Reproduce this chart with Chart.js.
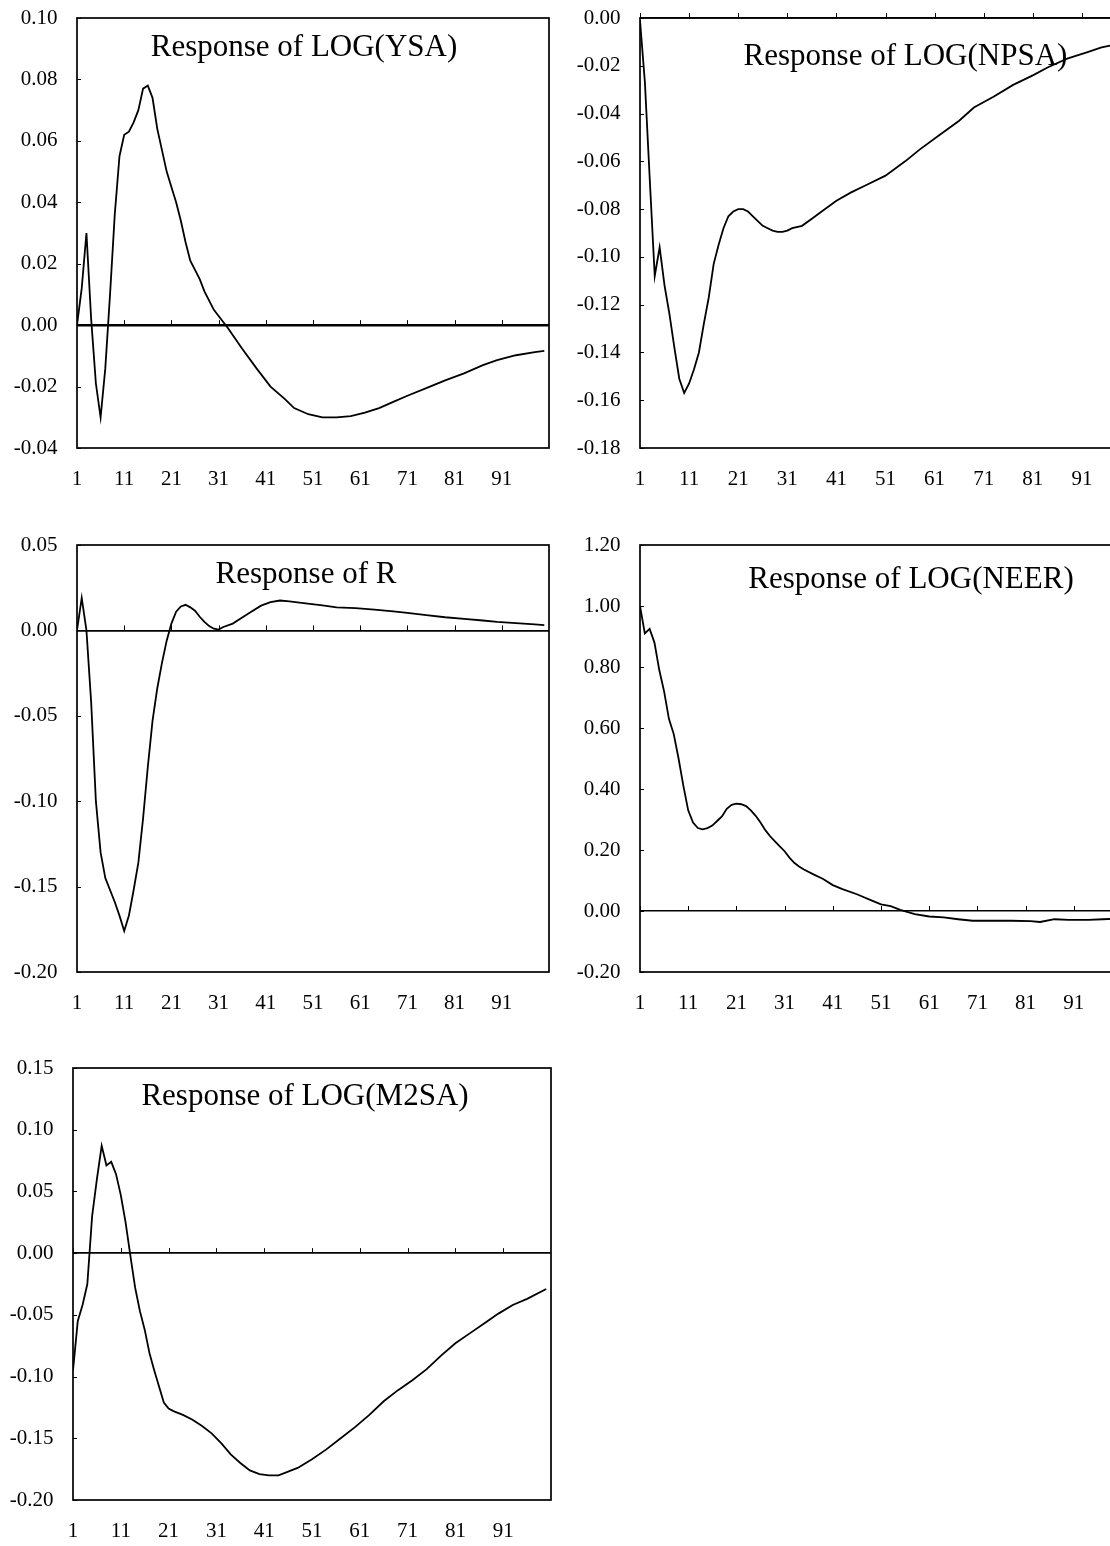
<!DOCTYPE html>
<html>
<head>
<meta charset="utf-8">
<script src="https://cdn.jsdelivr.net/npm/chart.js@4.4.0/dist/chart.umd.min.js"></script>
<style>
html, body { margin: 0; padding: 0; background: #fff; width: 1110px; height: 1546px; overflow: hidden; }
canvas.panel { position: absolute; }
</style>
</head>
<body>
<canvas id="c1" class="panel"></canvas>
<canvas id="c2" class="panel"></canvas>
<canvas id="c3" class="panel"></canvas>
<canvas id="c4" class="panel"></canvas>
<canvas id="c5" class="panel"></canvas>
<script>
// ==================== data ====================
const xTicks = [1, 11, 21, 31, 41, 51, 61, 71, 81, 91];

// Response of LOG(YSA)
const ysaTicks = [0.10, 0.08, 0.06, 0.04, 0.02, 0.00, -0.02, -0.04];
const ysaPeriods = [1, 2, 3, 4, 5, 6, 7, 8, 9, 10, 11, 12, 13, 14, 15, 16, 17, 18, 19, 20,
    21, 22, 23, 24, 25, 26, 27, 28, 29, 30, 31, 33, 36, 39, 42, 45, 47, 50, 53, 56,
    59, 62, 65, 68, 71, 75, 79, 83, 87, 90, 94, 98, 100];
const ysaValues = [0, 0.012, 0.030, 0.002, -0.019, -0.030, -0.014, 0.010, 0.036, 0.055, 0.062, 0.063, 0.066, 0.070, 0.077, 0.078, 0.074, 0.064, 0.057, 0.050,
    0.045, 0.040, 0.034, 0.027, 0.021, 0.018, 0.015, 0.011, 0.008, 0.005, 0.003, -0.001, -0.0077, -0.014, -0.020, -0.024, -0.027, -0.029, -0.030, -0.030,
    -0.0296, -0.0285, -0.027, -0.025, -0.023, -0.0205, -0.018, -0.0157, -0.013, -0.0114, -0.0098, -0.0088, -0.0084];

// Response of LOG(NPSA)
const npsaTicks = [0.00, -0.02, -0.04, -0.06, -0.08, -0.10, -0.12, -0.14, -0.16, -0.18];
const npsaPeriods = [1, 2, 3, 4, 5, 6, 7, 8, 9, 10, 11, 12, 13, 14, 15, 16, 17, 18, 19, 20,
    21, 22, 23, 24, 25, 26, 27, 28, 29, 30, 31, 32, 34, 36, 38, 41, 44, 47, 51, 55,
    58, 62, 66, 69, 73, 77, 81, 84, 88, 92, 95, 98, 100];
const npsaValues = [-0.001, -0.027, -0.068, -0.108, -0.096, -0.112, -0.124, -0.138, -0.151, -0.157, -0.153, -0.147, -0.140, -0.128, -0.117, -0.103, -0.095, -0.088, -0.083, -0.081,
    -0.080, -0.080, -0.081, -0.083, -0.085, -0.087, -0.088, -0.089, -0.0895, -0.0895, -0.089, -0.088, -0.087, -0.084, -0.081, -0.0765, -0.073, -0.070, -0.066, -0.060,
    -0.055, -0.049, -0.043, -0.0375, -0.033, -0.028, -0.024, -0.0207, -0.017, -0.0144, -0.0123, -0.011, -0.0102];

// Response of R
const rTicks = [0.05, 0.00, -0.05, -0.10, -0.15, -0.20];
const rPeriods = [1, 2, 3, 4, 5, 6, 7, 8, 9, 10, 11, 12, 13, 14, 15, 16, 17, 18, 19, 20,
    21, 22, 23, 24, 25, 26, 27, 28, 29, 30, 31, 32, 34, 36, 38, 40, 42, 44, 46, 49,
    53, 56, 60, 64, 68, 71, 75, 79, 83, 87, 90, 94, 98, 100];
const rValues = [0, 0.019, 0.0, -0.042, -0.100, -0.130, -0.145, -0.152, -0.159, -0.167, -0.176, -0.167, -0.152, -0.136, -0.110, -0.080, -0.053, -0.034, -0.019, -0.006,
    0.004, 0.011, 0.014, 0.015, 0.0135, 0.0115, 0.008, 0.005, 0.0025, 0.001, 0.0005, 0.002, 0.004, 0.0075, 0.011, 0.0145, 0.0165, 0.0175, 0.017, 0.016,
    0.0147, 0.0135, 0.0131, 0.0122, 0.0112, 0.0102, 0.0089, 0.0077, 0.0068, 0.0058, 0.005, 0.0042, 0.0035, 0.0031];

// Response of LOG(NEER)
const neerTicks = [1.20, 1.00, 0.80, 0.60, 0.40, 0.20, 0.00, -0.20];
const neerPeriods = [1, 2, 3, 4, 5, 6, 7, 8, 9, 10, 11, 12, 13, 14, 15, 16, 17, 18, 19, 20,
    21, 22, 23, 24, 25, 26, 27, 28, 29, 30, 31, 32, 33, 34, 35, 37, 39, 41, 43, 46,
    49, 51, 53, 55, 58, 61, 64, 67, 70, 74, 78, 82, 84, 87, 90, 94, 97, 100];
const neerValues = [1.00, 0.91, 0.925, 0.88, 0.79, 0.72, 0.63, 0.58, 0.50, 0.41, 0.33, 0.29, 0.272, 0.268, 0.272, 0.28, 0.295, 0.31, 0.335, 0.348,
    0.352, 0.350, 0.344, 0.330, 0.312, 0.29, 0.265, 0.245, 0.228, 0.212, 0.196, 0.175, 0.158, 0.146, 0.136, 0.120, 0.105, 0.085, 0.072, 0.055,
    0.035, 0.022, 0.016, 0.004, -0.010, -0.018, -0.021, -0.027, -0.032, -0.032, -0.032, -0.033, -0.036, -0.027, -0.029, -0.029, -0.027, -0.025];

// Response of LOG(M2SA)
const m2Ticks = [0.15, 0.10, 0.05, 0.00, -0.05, -0.10, -0.15, -0.20];
const m2Periods = [1, 2, 3, 4, 5, 6, 7, 8, 9, 10, 11, 12, 13, 14, 15, 16, 17, 18, 19, 20,
    21, 22, 24, 26, 28, 30, 32, 34, 36, 38, 40, 42, 44, 46, 48, 51, 54, 57, 60, 63,
    66, 69, 72, 75, 78, 81, 84, 87, 90, 93, 96, 100];
const m2Values = [-0.095, -0.055, -0.042, -0.025, 0.030, 0.060, 0.087, 0.071, 0.074, 0.064, 0.047, 0.025, -0.002, -0.028, -0.047, -0.062, -0.081, -0.095, -0.108, -0.121,
    -0.126, -0.128, -0.131, -0.135, -0.140, -0.146, -0.154, -0.163, -0.170, -0.176, -0.179, -0.180, -0.180, -0.177, -0.174, -0.167, -0.159, -0.150, -0.141, -0.131,
    -0.120, -0.111, -0.103, -0.094, -0.083, -0.073, -0.065, -0.057, -0.049, -0.042, -0.037, -0.029];

// ==================== layout ====================
// the y axis reserves half a label line plus its tick padding above the plot
const TICK_SIZE = 21, Y_PAD = 19.4;
const AXIS_W = 70, AXIS_H = 50, PAD_R = 8;
const TOP_OFF = Math.round(TICK_SIZE * 1.2 / 2 + Y_PAD);
const FONT = '"Liberation Serif", "Times New Roman", serif';

const panels = [
    { id: 'c1', title: 'Response of LOG(YSA)', periods: ysaPeriods, values: ysaValues, yTicks: ysaTicks,
      box: { l: 77, t: 18, w: 472, h: 430 }, titleDx: -9, titleDy: 30, zeroW: 2.4 },
    { id: 'c2', title: 'Response of LOG(NPSA)', periods: npsaPeriods, values: npsaValues, yTicks: npsaTicks,
      box: { l: 640, t: 18, w: 491, h: 430 }, titleDx: 20, titleDy: 39, zeroW: 1.5 },
    { id: 'c3', title: 'Response of R', periods: rPeriods, values: rValues, yTicks: rTicks,
      box: { l: 77, t: 545, w: 472, h: 427 }, titleDx: -7, titleDy: 30, zeroW: 1.7 },
    { id: 'c4', title: 'Response of LOG(NEER)', periods: neerPeriods, values: neerValues, yTicks: neerTicks,
      box: { l: 640, t: 545, w: 482, h: 427 }, titleDx: 30, titleDy: 35, zeroW: 1.6 },
    { id: 'c5', title: 'Response of LOG(M2SA)', periods: m2Periods, values: m2Values, yTicks: m2Ticks,
      box: { l: 73, t: 1068, w: 478, h: 432 }, titleDx: -7, titleDy: 29, zeroW: 1.7 }
];

// frame, inner tick marks and in-plot title
const framePlugin = {
    id: 'frame',
    afterDraw(chart, args, opts) {
        const { ctx, chartArea: a, scales: { x, y } } = chart;
        ctx.save();
        ctx.strokeStyle = '#000';
        ctx.lineWidth = 1.7;
        ctx.strokeRect(a.left, a.top, a.right - a.left, a.bottom - a.top);

        const y0 = Math.max(a.top, Math.min(a.bottom, y.getPixelForValue(0)));
        ctx.lineWidth = 1;
        xTicks.forEach(v => {
            const px = Math.round(x.getPixelForValue(v)) + 0.5;
            ctx.beginPath();
            ctx.moveTo(px, y0);
            ctx.lineTo(px, y0 - 5);
            ctx.stroke();
        });
        opts.yTicks.forEach(v => {
            const py = Math.round(y.getPixelForValue(v)) + 0.5;
            ctx.beginPath();
            ctx.moveTo(a.left, py);
            ctx.lineTo(a.left + 4, py);
            ctx.stroke();
        });

        ctx.fillStyle = '#000';
        ctx.font = '31px ' + FONT;
        ctx.textAlign = 'center';
        ctx.textBaseline = 'middle';
        ctx.fillText(opts.title, (a.left + a.right) / 2 + opts.dx, a.top + opts.dy);
        ctx.restore();
    }
};

panels.forEach(p => {
    const cv = document.getElementById(p.id);
    const cw = AXIS_W + p.box.w + PAD_R;
    const ch = TOP_OFF + p.box.h + AXIS_H;
    cv.width = cw;
    cv.height = ch;
    cv.style.width = cw + 'px';
    cv.style.height = ch + 'px';
    cv.style.left = (p.box.l - AXIS_W) + 'px';
    cv.style.top = (p.box.t - TOP_OFF) + 'px';

    const yMax = p.yTicks[0];
    const yMin = p.yTicks[p.yTicks.length - 1];

    new Chart(cv.getContext('2d'), {
        type: 'line',
        data: {
            datasets: [{
                data: p.periods.map((t, i) => ({ x: t, y: p.values[i] })),
                borderColor: '#000',
                borderWidth: 1.8,
                pointRadius: 0,
                tension: 0,
                fill: false
            }]
        },
        options: {
            responsive: false,
            animation: false,
            layout: { padding: { top: 0, right: PAD_R, left: 0, bottom: 0 } },
            plugins: {
                legend: { display: false },
                tooltip: { enabled: false },
                frame: { title: p.title, dx: p.titleDx, dy: p.titleDy, yTicks: p.yTicks }
            },
            scales: {
                x: {
                    type: 'linear',
                    min: 1,
                    max: 101,
                    afterBuildTicks: s => { s.ticks = xTicks.map(v => ({ value: v })); },
                    afterFit: s => { s.height = AXIS_H; },
                    grid: { display: false, drawTicks: false },
                    border: { display: false },
                    ticks: {
                        padding: 19,
                        color: '#000',
                        autoSkip: false,
                        maxRotation: 0,
                        font: { family: FONT, size: TICK_SIZE },
                        callback: v => String(v)
                    }
                },
                y: {
                    type: 'linear',
                    min: yMin,
                    max: yMax,
                    afterBuildTicks: s => { s.ticks = p.yTicks.map(v => ({ value: v })); },
                    afterFit: s => { s.width = AXIS_W; },
                    grid: {
                        drawTicks: false,
                        color: c => (c.tick && Math.abs(c.tick.value) < 1e-9) ? '#000' : 'rgba(0,0,0,0)',
                        lineWidth: c => (c.tick && Math.abs(c.tick.value) < 1e-9) ? p.zeroW : 0
                    },
                    border: { display: false },
                    ticks: {
                        padding: Y_PAD,
                        color: '#000',
                        font: { family: FONT, size: TICK_SIZE },
                        callback: v => Number(v).toFixed(2)
                    }
                }
            }
        },
        plugins: [framePlugin]
    });
});
</script>
</body>
</html>
